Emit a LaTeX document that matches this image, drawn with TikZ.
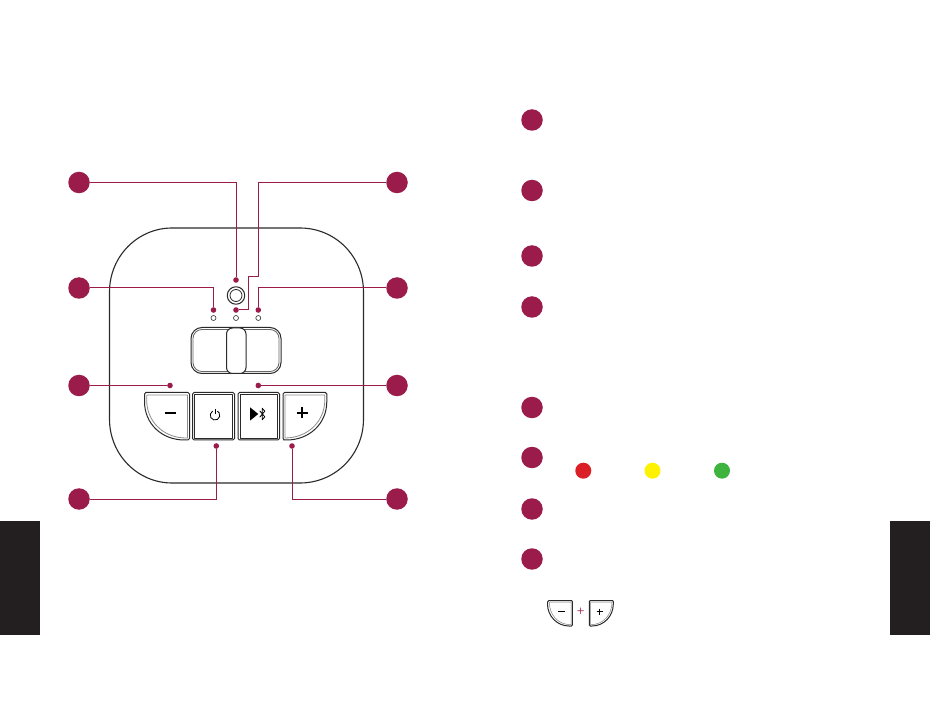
\documentclass[tikz,border=0pt]{standalone}
\definecolor{maroon}{HTML}{9B1B4B}
\definecolor{tabk}{HTML}{231F20}
\definecolor{ink}{HTML}{2B2A2B}
\tikzset{
  badge/.style={circle,fill=maroon,draw=none,minimum size=21.5pt,inner sep=0pt},
  pin/.style={circle,fill=maroon,draw=none,minimum size=5.6pt,inner sep=0pt},
  lead/.style={draw=maroon,line width=1pt},
  outl/.style={draw=ink,line width=1pt,line join=round},
  innr/.style={draw=ink,line width=.8pt,line join=round},
  grayl/.style={draw=black!45,line width=.8pt,line join=round},
  led/.style={circle,draw=ink,line width=.6pt,minimum size=5pt,inner sep=0pt},
  lamp/.style={circle,draw=none,minimum size=16pt,inner sep=0pt},
  glyph/.style={draw=black,line width=1.6pt},
}
\begin{document}
\begin{tikzpicture}[x=1pt,y=-1pt]
\useasboundingbox (0,0) rectangle (930,703);
\fill[white] (0,0) rectangle (930,703);
% side tabs
\fill[tabk] (0,521) rectangle (40,635);
\fill[tabk] (890,521) rectangle (930,635);
% body
\draw[outl,line width=1.1pt] (172,228) -- (300,228) .. controls (335,228) and (363.5,256) .. (363.5,292)
  -- (363.5,419) .. controls (363.5,455) and (335,483) .. (300,483)
  -- (172,483) .. controls (138,483) and (109.5,455) .. (109.5,419)
  -- (109.5,292) .. controls (109.5,256) and (138,228) .. (172,228) -- cycle;
% top button
\node[circle,outl,minimum size=17.5pt,inner sep=0pt] (btnout) at (236,295.5) {};
\node[circle,innr,minimum size=12pt,inner sep=0pt] (btnin) at (236,295.5) {};
% LEDs
\node[led] (l1) at (213.5,318) {};
\node[led] (l2) at (236,318) {};
\node[led] (l3) at (258.3,318) {};
% slider
\draw[outl,rounded corners=11pt] (191,327.5) rectangle (281,373.5);
\draw[innr,draw=black!60,rounded corners=9pt] (193,329.5) rectangle (279,371.5);
\draw[outl,fill=white,rounded corners=6pt] (226.5,328) rectangle (246,373.5);
% minus key
\draw[outl,rounded corners=1.5pt] (147,392.5) -- (189.5,392.5) -- (189.5,440)
  -- (186,440) .. controls (162,440) and (144.5,424) .. (144.5,400) -- (144.5,392.5) -- cycle;
\draw[grayl] (147,395) -- (187.5,395) -- (187.5,438) -- (186,438)
  .. controls (164,438) and (146.7,422) .. (146.7,400) -- (146.7,395);
% power key
\draw[outl,rounded corners=1.5pt] (192.5,392.5) rectangle (234.5,440);
\draw[innr] (194.5,394.5) rectangle (232.5,438);
% bluetooth key
\draw[outl,rounded corners=1.5pt] (238,392.5) rectangle (279.5,440);
\draw[innr] (240,394.5) rectangle (277.5,438);
% plus key
\draw[outl,rounded corners=1.5pt] (283,392.5) -- (326.8,392.5) -- (326.8,400)
  .. controls (326.8,424) and (309,440) .. (285,440) -- (283,440) -- cycle;
\draw[grayl] (285,395) -- (324.8,395) -- (324.8,400)
  .. controls (324.8,422) and (307,438) .. (285,438) -- cycle;
% key glyphs
\draw[glyph] (165,413) -- (176,413);
\draw[glyph] (296.5,413) -- (307.5,413) (302,407.5) -- (302,418.5);
\draw[draw=black,line width=.8pt] (212.6,411.1) arc[start angle=-120,end angle=-420,radius=4.8];
\draw[draw=black,line width=.8pt] (215,409) -- (215,414.5);
\fill[black] (250.2,407.5) -- (250.2,420.5) -- (258.3,414) -- cycle;
\draw[draw=black,line width=.8pt,line join=round] (259.7,410.8) -- (264.8,416.8) -- (262.2,419.8) -- (262.2,408.2) -- (264.8,411.2) -- (259.7,417.2);
% badges left picture
\node[badge] (a1) at (79,182.5) {};
\node[badge] (a2) at (397,182.5) {};
\node[badge] (a3) at (79,288) {};
\node[badge] (a4) at (397,288) {};
\node[badge] (a5) at (79,385.5) {};
\node[badge] (a6) at (397,385.5) {};
\node[badge] (a7) at (79,499) {};
\node[badge] (a8) at (397,499) {};
% pins
\node[pin] (p1) at (236,280) {};
\node[pin] (p2) at (236,310) {};
\node[pin] (p3) at (213.5,310) {};
\node[pin] (p4) at (258.3,310) {};
\node[pin] (p5) at (170,385.5) {};
\node[pin] (p6) at (258.3,385.5) {};
\node[pin] (p7) at (216.3,446) {};
\node[pin] (p8) at (292,446) {};
\coordinate (b1) at (258.3,277);
\coordinate (b2) at (248,277);
\coordinate (b3) at (248,310);
% leaders
\draw[lead] (a1) -| (p1);
\draw[lead] (a2) -| (b1) -- (b2) -- (b3) -- (p2);
\draw[lead] (a3) -| (p3);
\draw[lead] (a4) -| (p4);
\draw[lead] (a5) -- (p5);
\draw[lead] (a6) -- (p6);
\draw[lead] (a7) -| (p7);
\draw[lead] (a8) -| (p8);
% badges right list
\node[badge] (r1) at (532,120) {};
\node[badge] (r2) at (532,190.5) {};
\node[badge] (r3) at (532,256) {};
\node[badge] (r4) at (532,307) {};
\node[badge] (r5) at (532,407.5) {};
\node[badge] (r6) at (532,457.5) {};
\node[badge] (r7) at (532,509) {};
\node[badge] (r8) at (532,559) {};
% lamps
\node[lamp,fill={rgb,255:red,218;green,32;blue,38}] (cr) at (583.3,470.7) {};
\node[lamp,fill={rgb,255:red,255;green,242;blue,0}] (cy) at (652.5,470.7) {};
\node[lamp,fill={rgb,255:red,62;green,179;blue,62}] (cg) at (722,470.7) {};
% small keys
\draw[outl,rounded corners=1pt] (548,600.5) -- (572.3,600.5) -- (572.3,626)
  -- (570,626) .. controls (557,626) and (547.5,616) .. (547.5,603) -- cycle;
\draw[outl,rounded corners=1pt] (589.3,600.5) -- (613.3,600.5) -- (613.3,603)
  .. controls (613.3,616) and (604,626) .. (591,626) -- (589.3,626) -- cycle;
\draw[draw=black!50,line width=.5pt] (549.3,602) -- (571,602) -- (571,624.7)
  .. controls (558,624.7) and (549.3,615) .. (549.3,602);
\draw[draw=black!50,line width=.5pt] (590.7,602) -- (612,602)
  .. controls (612,615) and (603,624.7) .. (590.7,624.7) -- cycle;
\draw[draw=black,line width=.8pt] (558,611.5) -- (564.5,611.5);
\draw[draw=black,line width=.8pt] (596.5,611.5) -- (602.5,611.5) (599.5,608.5) -- (599.5,614.5);
\node[text=maroon,inner sep=0pt,font=\sffamily\small\bfseries] (pl) at (580.7,611.5) {+};
\end{tikzpicture}
\end{document}
